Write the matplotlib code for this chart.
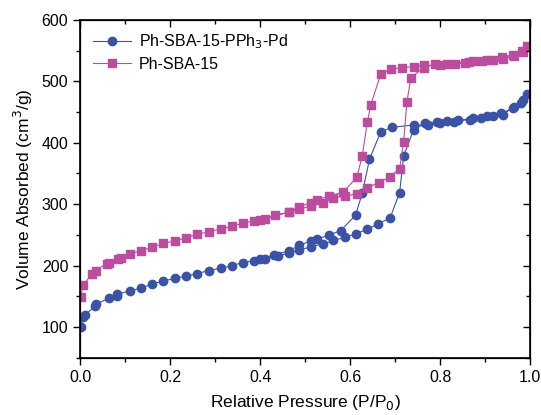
import numpy as np
import matplotlib
matplotlib.use("Agg")
from matplotlib import pyplot as plt
from matplotlib.ticker import MultipleLocator, FormatStrFormatter

plt.rcParams['font.family'] = ['Liberation Sans', 'DejaVu Sans']

# Ph-SBA-15-PPh3-Pd: adsorption branch then desorption branch
pd_ads_x = [0.0015, 0.007, 0.01, 0.033, 0.035, 0.064, 0.081, 0.083, 0.11, 0.135, 0.16, 0.185,
            0.21, 0.236, 0.26, 0.287, 0.313, 0.338, 0.361, 0.387, 0.41, 0.44, 0.464, 0.487,
            0.513, 0.539, 0.563, 0.589, 0.613, 0.638, 0.663, 0.689, 0.71, 0.719, 0.741, 0.767,
            0.793, 0.815, 0.839, 0.867, 0.89, 0.917, 0.94, 0.964, 0.983, 0.994]
pd_ads_y = [100, 117, 119, 134, 137, 147, 150, 153, 159, 163, 170, 175,
            179, 183, 187, 192, 196, 200, 205, 208, 211, 215, 221, 225,
            231, 235, 241, 246, 252, 259, 268, 278, 319, 379, 421, 432,
            433, 436, 437, 437, 441, 444, 446, 459, 470, 479]
pd_des_x = [0.98, 0.962, 0.935, 0.904, 0.874, 0.83, 0.80, 0.774, 0.741, 0.693, 0.668,
            0.643, 0.627, 0.612, 0.579, 0.554, 0.526, 0.513, 0.487, 0.464, 0.43, 0.40]
pd_des_y = [465, 456, 448, 444, 441, 434, 432, 429, 429, 425, 418,
            373, 318, 282, 257, 250, 243, 240, 233, 224, 217, 211]

# Ph-SBA-15
sba_ads_x = [0.0015, 0.007, 0.027, 0.035, 0.059, 0.065, 0.085, 0.09, 0.11, 0.135, 0.16, 0.185,
             0.21, 0.236, 0.26, 0.287, 0.313, 0.338, 0.361, 0.387, 0.41, 0.433, 0.464, 0.487,
             0.513, 0.539, 0.563, 0.589, 0.615, 0.638, 0.664, 0.689, 0.71, 0.719, 0.726, 0.735,
             0.763, 0.789, 0.815, 0.833, 0.856, 0.874, 0.893, 0.917, 0.94, 0.964, 0.983, 0.994]
sba_ads_y = [149, 168, 187, 192, 203, 204, 211, 212, 219, 224, 230, 236,
             240, 245, 251, 255, 260, 264, 269, 273, 276, 282, 287, 292,
             297, 302, 310, 313, 317, 327, 335, 345, 358, 402, 466, 506,
             522, 528, 529, 529, 530, 533, 533, 535, 537, 541, 548, 557]
sba_des_x = [0.981, 0.962, 0.937, 0.904, 0.865, 0.8, 0.763, 0.741, 0.715, 0.691, 0.668,
             0.646, 0.638, 0.627, 0.615, 0.585, 0.554, 0.526, 0.513, 0.487, 0.464, 0.40]
sba_des_y = [550, 543, 539, 535, 532, 526, 526, 524, 522, 520, 512,
             462, 433, 379, 344, 320, 313, 307, 302, 296, 287, 275]

blue = '#3a53a4'
pink = '#bb4c9e'

fig = plt.figure(figsize=(5.41, 4.15), dpi=100)
ax = fig.add_axes([0.148, 0.138, 0.832, 0.814])

ax.plot(pd_ads_x + pd_des_x, pd_ads_y + pd_des_y, color=blue, lw=0.8, marker='o',
        ms=6, mec=blue, mfc=blue, label='Ph-SBA-15-PPh$_3$-Pd')
ax.plot(sba_ads_x + sba_des_x, sba_ads_y + sba_des_y, color=pink, lw=0.8, marker='s',
        ms=5.3, mec=pink, mfc=pink, label='Ph-SBA-15')

ax.set_xlim(0, 1.0)
ax.set_ylim(50, 600)
ax.xaxis.set_major_locator(MultipleLocator(0.2))
ax.xaxis.set_minor_locator(MultipleLocator(0.1))
ax.yaxis.set_minor_locator(MultipleLocator(50))
ax.set_yticks([100, 200, 300, 400, 500, 600])
ax.xaxis.set_major_formatter(FormatStrFormatter('%.1f'))

ax.tick_params(which='both', direction='out', labelsize=11.5)
ax.tick_params(which='major', length=5, width=1)
ax.tick_params(which='minor', length=3, width=1)
for s in ax.spines.values():
    s.set_linewidth(1.2)

# top and right ticks point inward, no labels
axt = ax.twiny()
axt.set_xlim(ax.get_xlim())
axt.xaxis.set_major_locator(MultipleLocator(0.2))
axt.xaxis.set_minor_locator(MultipleLocator(0.1))
axt.tick_params(which='both', direction='in', labeltop=False, width=1)
axt.tick_params(which='major', length=5)
axt.tick_params(which='minor', length=3)
axr = ax.twinx()
axr.set_ylim(ax.get_ylim())
axr.yaxis.set_major_locator(MultipleLocator(100))
axr.yaxis.set_minor_locator(MultipleLocator(50))
axr.tick_params(which='both', direction='in', labelright=False, width=1)
axr.tick_params(which='major', length=5)
axr.tick_params(which='minor', length=3)

ax.set_xlabel('Relative Pressure (P/P$_0$)', fontsize=12.5, labelpad=6)
ax.set_ylabel('Volume Absorbed (cm$^3$/g)', fontsize=12.5, labelpad=5)

ax.legend(loc='upper left', frameon=False, fontsize=11.5, handlelength=2.4,
          borderaxespad=0.2, borderpad=0.6, labelspacing=0.35, handletextpad=0.5)

fig.savefig('out.png', dpi=100)
